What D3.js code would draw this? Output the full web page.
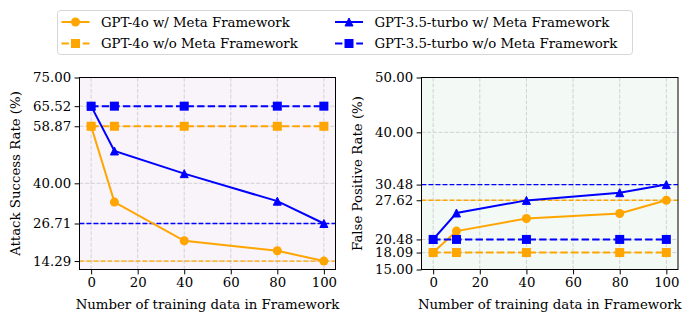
<!DOCTYPE html>
<html>
<head>
<meta charset="utf-8">
<script src="https://cdn.jsdelivr.net/npm/d3@7"></script>
</head>
<body style="margin:0; background:#fff">
<svg id="chart" width="689" height="322"></svg>
<script>
// data
const steps = [0, 10, 40, 80, 100];
const xTicks = [0, 20, 40, 60, 80, 100];

// Attack success rate (%)
const asr4oWith = [58.87, 33.8, 21.0, 17.7, 14.29];
const asr4oWithout = [58.87, 58.87, 58.87, 58.87, 58.87];
const asr35With = [65.52, 50.7, 43.2, 34.1, 26.71];
const asr35Without = [65.52, 65.52, 65.52, 65.52, 65.52];
const asrTicks = [14.29, 26.71, 40.00, 58.87, 65.52, 75.00];
const asrRefLines = [{v: 26.71, c: "blue"}, {v: 14.29, c: "orange"}];

// False positive rate (%)
const fpr4oWith = [18.09, 22.0, 24.3, 25.2, 27.62];
const fpr4oWithout = [18.09, 18.09, 18.09, 18.09, 18.09];
const fpr35With = [20.48, 25.3, 27.6, 29.0, 30.48];
const fpr35Without = [20.48, 20.48, 20.48, 20.48, 20.48];
const fprTicks = [15.00, 18.09, 20.48, 27.62, 30.48, 40.00, 50.00];
const fprRefLines = [{v: 30.48, c: "blue"}, {v: 27.62, c: "orange"}];

const seriesNames = ["GPT-4o w/ Meta Framework", "GPT-4o w/o Meta Framework",
                     "GPT-3.5-turbo w/ Meta Framework", "GPT-3.5-turbo w/o Meta Framework"];
const seriesColors = ["orange", "orange", "blue", "blue"];
const seriesMarkers = ["circle", "square", "triangle", "square"];
const seriesDashed = [false, true, false, true];

const FONT_STYLE = "font-family:'DejaVu Serif';font-size:13.3px";
const svg = d3.select("#chart");

// markers ~8px with a 1px edge in the same colour, like matplotlib
function drawMarker(g, type, x, y, color) {
  if (type === "circle") {
    g.append("circle").attr("cx", x).attr("cy", y).attr("r", 4.5).attr("fill", color);
  } else if (type === "square") {
    g.append("rect").attr("x", x - 4.5).attr("y", y - 4.5).attr("width", 9).attr("height", 9).attr("fill", color);
  } else {
    g.append("path").attr("d", `M${x},${y - 4}L${x + 4},${y + 4}L${x - 4},${y + 4}Z`)
      .attr("fill", color).attr("stroke", color).attr("stroke-width", 1);
  }
}

function panel(opts) {
  const x = d3.scaleLinear().domain([-5, 105]).range([opts.left, opts.right]);
  const y = d3.scaleLinear().domain(opts.yDomain).range([opts.bottom, opts.top]);
  const g = svg.append("g");

  g.append("rect").attr("x", opts.left).attr("y", opts.top)
    .attr("width", opts.right - opts.left).attr("height", opts.bottom - opts.top)
    .attr("fill", opts.bg);

  // grid
  const grid = g.append("g").attr("stroke", "#d2d2d2").attr("stroke-width", 1).attr("stroke-dasharray", "4,1.7");
  xTicks.forEach(t => grid.append("line").attr("x1", x(t)).attr("x2", x(t)).attr("y1", opts.top).attr("y2", opts.bottom));
  opts.yTicks.forEach(t => grid.append("line").attr("x1", opts.left).attr("x2", opts.right).attr("y1", y(t)).attr("y2", y(t)));

  // reference lines
  opts.refLines.forEach(r => g.append("line")
    .attr("x1", opts.left).attr("x2", opts.right).attr("y1", y(r.v)).attr("y2", y(r.v))
    .attr("stroke", r.c).attr("stroke-width", 1.3).attr("stroke-dasharray", "4.9,2.1"));

  // series
  const line = d3.line().x((d, i) => x(steps[i])).y(d => y(d));
  opts.series.forEach((vals, k) => {
    g.append("path").datum(vals).attr("d", line).attr("fill", "none")
      .attr("stroke", seriesColors[k]).attr("stroke-width", 2)
      .attr("stroke-dasharray", seriesDashed[k] ? "7.4,3.2" : null);
    vals.forEach((v, i) => drawMarker(g, seriesMarkers[k], x(steps[i]), y(v), seriesColors[k]));
  });

  // axes
  const xa = g.append("g").attr("transform", `translate(0,${opts.bottom})`)
    .call(d3.axisBottom(x).tickValues(xTicks).tickSize(4.9).tickPadding(3.5).tickSizeOuter(0));
  const ya = g.append("g").attr("transform", `translate(${opts.left},0)`)
    .call(d3.axisLeft(y).tickValues(opts.yTicks).tickFormat(d3.format(".2f")).tickSize(4.9).tickPadding(3.5).tickSizeOuter(0));
  [xa, ya].forEach(a => {
    a.select(".domain").remove();
    a.selectAll("text").attr("fill", "#000").attr("style", FONT_STYLE);
  });

  g.append("rect").attr("x", opts.left).attr("y", opts.top)
    .attr("width", opts.right - opts.left).attr("height", opts.bottom - opts.top)
    .attr("fill", "none").attr("stroke", "#000").attr("stroke-width", 1);

  g.append("text").attr("x", (opts.left + opts.right) / 2).attr("y", 309)
    .attr("text-anchor", "middle").attr("style", FONT_STYLE).text("Number of training data in Framework");
  g.append("text").attr("transform", `translate(${opts.yLabelX},${(opts.top + opts.bottom) / 2}) rotate(-90)`)
    .attr("text-anchor", "middle").attr("dy", "0.35em").attr("style", FONT_STYLE).text(opts.yLabel);
}

panel({
  left: 79.5, right: 335.5, top: 77.5, bottom: 269.5,
  yDomain: [11.5, 75], yTicks: asrTicks, refLines: asrRefLines,
  series: [asr4oWith, asr4oWithout, asr35With, asr35Without],
  bg: "#f9f3fa", yLabel: "Attack Success Rate (%)", yLabelX: 15.5
});
panel({
  left: 421.5, right: 678, top: 77.5, bottom: 269.5,
  yDomain: [15, 50], yTicks: fprTicks, refLines: fprRefLines,
  series: [fpr4oWith, fpr4oWithout, fpr35With, fpr35Without],
  bg: "#f3f9f5", yLabel: "False Positive Rate (%)", yLabelX: 357
});

// legend
const lg = svg.append("g");
lg.append("rect").attr("x", 57.5).attr("y", 10.5).attr("width", 575).attr("height", 44)
  .attr("rx", 3).attr("fill", "#fff").attr("stroke", "#d6d6d6").attr("stroke-width", 1);
seriesNames.forEach((name, k) => {
  const col = Math.floor(k / 2), row = k % 2;
  const hx = col === 0 ? 61.5 : 335;
  const hy = row === 0 ? 22 : 43.5;
  lg.append("line").attr("x1", hx).attr("x2", hx + 28).attr("y1", hy).attr("y2", hy)
    .attr("stroke", seriesColors[k]).attr("stroke-width", 2)
    .attr("stroke-dasharray", seriesDashed[k] ? "7.4,3.2" : null);
  drawMarker(lg, seriesMarkers[k], hx + 14, hy, seriesColors[k]);
  lg.append("text").attr("x", hx + 39.5).attr("y", hy).attr("dy", "0.35em")
    .attr("style", FONT_STYLE).text(name);
});
</script>
</body>
</html>
